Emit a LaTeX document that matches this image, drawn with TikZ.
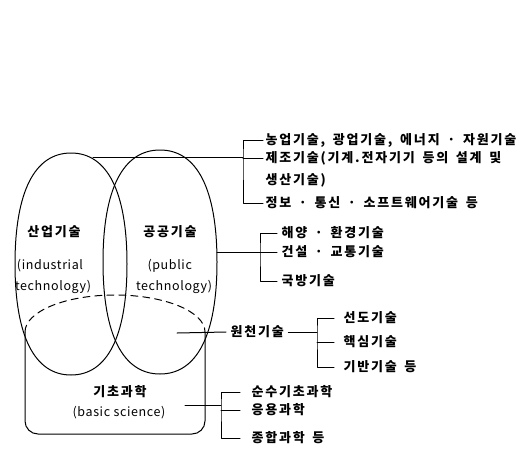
\documentclass[tikz,border=0pt]{standalone}
\usepackage{fontspec}
\setmainfont{Noto Sans CJK KR}
\newfontfamily\korfont{Noto Sans CJK KR}[LetterSpace=14,WordSpace=1.6]
\newfontfamily\engfont{Noto Sans CJK KR}[LetterSpace=5]
\usetikzlibrary{positioning}
% hand drawn looking oval: centre x, centre y, x radius, y radius
\newcommand{\fatoval}[4]{(#1+#3,#2) .. controls (#1+#3,#2+0.65*#4) and (#1+0.65*#3,#2+#4) .. (#1,#2+#4)
  .. controls (#1-0.65*#3,#2+#4) and (#1-#3,#2+0.65*#4) .. (#1-#3,#2)
  .. controls (#1-#3,#2-0.65*#4) and (#1-0.65*#3,#2-#4) .. (#1,#2-#4)
  .. controls (#1+0.65*#3,#2-#4) and (#1+#3,#2-0.65*#4) .. (#1+#3,#2) -- cycle}
\begin{document}
\begin{tikzpicture}[x=1pt,y=-1pt,line width=1pt,line join=round,line cap=round]
    \tikzset{kor/.style={inner sep=0pt,font=\korfont\bfseries\fontsize{13}{15}\selectfont},
             eng/.style={inner sep=0pt,font=\engfont\fontsize{12.5}{14}\selectfont},
             item/.style={kor,anchor=west,inner xsep=#1},
             item/.default=2pt}
    \useasboundingbox (0,0) rectangle (525,453);
    % the three fields
    \draw \fatoval{71}{264}{56}{111};
    \draw \fatoval{160}{262}{57}{112};
    \draw[rounded corners=13pt] (25,332) -- (25,434) -- (205,434) -- (205,332);
    \draw[dash pattern=on 7pt off 5pt] (25,332) arc[start angle=180,end angle=0,x radius=90pt,y radius=37pt];
    \node[kor] (indtitle) at (54,232) {산업기술};
    \node[eng] (indeng1) at (50,266) {(industrial};
    \node[eng] (indeng2) at (53,287) {technology)};
    \node[kor] (pubtitle) at (170,232) {공공기술};
    \node[eng,anchor=west] (pubeng1) at (147,266) {(public};
    \node[eng] (pubeng2) at (174,287) {technology)};
    \node[kor] (bastitle) at (120,392) {기초과학};
    \node[eng] (baseng) at (119,413) {(basic science)};
    % free ends inside the fields
    \coordinate (indtop) at (93,157);
    \coordinate (pubedge) at (217,252);
    \coordinate (srcin) at (177,333);
    \coordinate (basin) at (185,405);
    % industrial technology
    \coordinate (b1) at (243,157);
    \node[item] (agri) at (263,140) {농업기술, 광업기술, 에너지 · 자원기술};
    \node[item] (manu) at (263,158) {제조기술(기계.전자기기 등의 설계 및};
    \node[item] (manu2) at (263,180) {생산기술)};
    \node[item] (info) at (263,203) {정보 · 통신 · 소프트웨어기술 등};
    \draw (indtop) -- (b1);
    \draw (agri.west) -| (b1) |- (info.west);
    \draw (manu.west) -- (manu.west -| b1);
    % public technology
    \coordinate (b3) at (260,252);
    \node[item=4pt] (ocean) at (277,233) {해양 · 환경기술};
    \node[item=4pt] (constr) at (277,252) {건설 · 교통기술};
    \node[item=4pt] (defense) at (277,281) {국방기술};
    \draw (pubedge) -- (b3);
    \draw (ocean.west) -| (b3) |- (defense.west);
    \draw (constr.west) -- (constr.west -| b3);
    % source technology
    \coordinate (b2) at (317,332);
    \node[item=4pt] (source) at (226,332) {원천기술};
    \node[item=9pt] (lead) at (334,318) {선도기술};
    \node[item=9pt] (core) at (334,342) {핵심기술};
    \node[item=9pt] (base) at (334,367) {기반기술 등};
    \draw (srcin) -- (source.west);
    \draw (source.east) -- (b2);
    \draw (lead.west) -| (b2) |- (base.west);
    \draw (core.west) -- (core.west -| b2);
    % basic science
    \coordinate (b4) at (221,405);
    \node[item=11pt] (pure) at (240,392) {순수기초과학};
    \node[item=11pt] (applied) at (240,410) {응용과학};
    \node[item=11pt] (general) at (240,438) {종합과학 등};
    \draw (basin) -- (b4);
    \draw (pure.west) -| (b4) |- (general.west);
    \draw (applied.west) -- (applied.west -| b4);
\end{tikzpicture}
\end{document}
